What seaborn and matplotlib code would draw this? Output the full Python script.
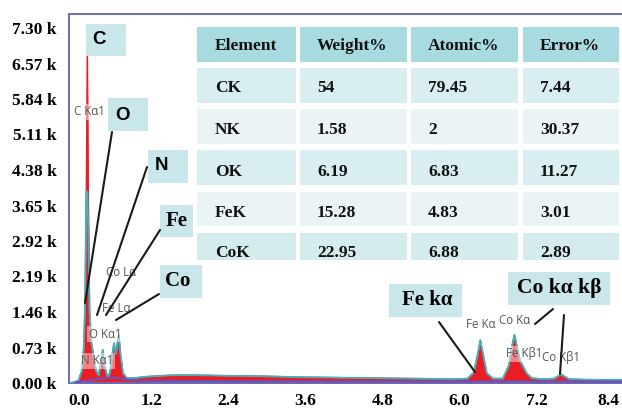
import numpy as np
import pandas as pd
import matplotlib
matplotlib.use("Agg")
import matplotlib.pyplot as plt
import seaborn as sns
from matplotlib.patches import Rectangle
from matplotlib.lines import Line2D
from matplotlib.transforms import ScaledTranslation, Bbox, TransformedBbox

# ---------------- spectrum data (energy in keV, counts in thousands) ----------------
energy_kev = [0.00, 0.10, 0.15, 0.20, 0.23, 0.25, 0.27, 0.285, 0.30, 0.32, 0.35, 0.39,
              0.42, 0.46, 0.50, 0.525, 0.55, 0.60, 0.64, 0.67, 0.70, 0.73, 0.755, 0.775,
              0.80, 0.84, 0.90, 1.0, 1.2, 1.6, 2.0, 2.4, 3.0, 3.6, 4.2, 4.8, 5.4, 6.0, 6.20,
              6.30, 6.36, 6.40, 6.44, 6.50, 6.60, 6.75, 6.84, 6.90, 6.93, 6.97, 7.02,
              7.06, 7.12, 7.20, 7.35, 7.55, 7.62, 7.65, 7.70, 7.78, 8.0, 8.61]
counts_k = [0.00, 0.02, 0.06, 0.25, 0.73, 1.6, 4.0, 6.95, 4.0, 1.46, 0.8, 0.5,
            0.25, 0.15, 0.45, 0.68, 0.35, 0.12, 0.22, 0.55, 0.82, 0.6, 0.85, 0.99,
            0.6, 0.2, 0.1, 0.1, 0.13, 0.16, 0.16, 0.15, 0.14, 0.12, 0.11, 0.10, 0.09, 0.08, 0.09,
            0.22, 0.6, 0.88, 0.6, 0.2, 0.09, 0.09, 0.35, 0.8, 0.99, 0.75, 0.45,
            0.35, 0.2, 0.1, 0.08, 0.09, 0.15, 0.18, 0.14, 0.08, 0.07, 0.06]
# second (outline) trace differs only at the carbon peak
outline_overrides = {0.27: 3.95, 0.285: 3.9, 0.30: 3.2}

# fitted background
bg_energy = [0.10, 0.30, 0.50, 0.70, 0.90, 1.2, 2.0, 4.0, 6.0, 8.61]
bg_counts = [0.01, 0.05, 0.09, 0.11, 0.07, 0.05, 0.04, 0.03, 0.03, 0.03]

# axis ticks
x_ticks = [0.0, 1.2, 2.4, 3.6, 4.8, 6.0, 7.2, 8.4]
y_ticks = [0.00, 0.73, 1.46, 2.19, 2.92, 3.65, 4.38, 5.11, 5.84, 6.57, 7.30]

# quantification table
table_header = ["Element", "Weight%", "Atomic%", "Error%"]
elements = ["CK", "NK", "OK", "FeK", "CoK"]
weight_pct = [54, 1.58, 6.19, 15.28, 22.95]
atomic_pct = [79.45, 2, 6.83, 4.83, 6.88]
error_pct = [7.44, 30.37, 11.27, 3.01, 2.89]

# ---------------- figure ----------------
W, H = 622, 409
sns.set_theme(style="white")
plt.rcParams["font.family"] = ["Liberation Serif", "DejaVu Serif"]

fig = plt.figure(figsize=(W / 100, H / 100), dpi=100)
ax = fig.add_axes([69 / W, 1 - 383 / H, (W - 69) / W + 0.01, (383 - 14) / H])

spec = pd.DataFrame({"energy": energy_kev, "counts": counts_k})
spec["outline"] = [outline_overrides.get(e, c) for e, c in zip(energy_kev, counts_k)]
bg = pd.DataFrame({"energy": bg_energy, "counts": bg_counts})

RED = "#ec1c24"
TEAL = "#3fb3bd"
PURPLE = "#6b53b5"
FRAME = "#6a6ab8"

ax.fill_between(spec["energy"], 0, spec["counts"], color=RED, lw=0, zorder=2)
sns.lineplot(data=spec, x="energy", y="counts", color=RED, lw=1.0, ax=ax,
             estimator=None, sort=False, zorder=2.5)
sns.lineplot(data=spec, x="energy", y="outline", color=TEAL, lw=1.3, ax=ax,
             estimator=None, sort=False, zorder=3)
sns.lineplot(data=bg, x="energy", y="counts", color=PURPLE, lw=1.6, ax=ax,
             estimator=None, sort=False, zorder=3.5)

ax.set_xlim(0, (W + 6 - 68.3) / 64.33)
ax.set_ylim(0, (383 - 14) * 0.73 / 35.5)
ax.set_xticks(x_ticks)
ax.set_xticklabels([f"{v:.1f}" for v in x_ticks])
ax.set_yticks(y_ticks)
ax.set_yticklabels([f"{v:.2f} k" for v in y_ticks])
ax.set_xlabel("")
ax.set_ylabel("")
ax.tick_params(axis="both", direction="in", length=3, width=0.8, color="#9a9a9a",
               labelsize=12.5, labelcolor="black")
ax.tick_params(axis="y", pad=9)
ax.tick_params(axis="x", pad=7)
for lbl in ax.get_xticklabels() + ax.get_yticklabels():
    lbl.set_fontweight("bold")
# x labels sit slightly right of their ticks; the first and last are nudged to stay in frame
label_shift_px = [10, 5, 5, 5, 5, 5, 5, -1]
for lbl, dx in zip(ax.get_xticklabels(), label_shift_px):
    lbl.set_transform(lbl.get_transform() + ScaledTranslation(dx / 100, 0, fig.dpi_scale_trans))
for side in ["left", "top", "bottom"]:
    ax.spines[side].set_color(FRAME)
    ax.spines[side].set_linewidth(1.4)
ax.spines["right"].set_visible(False)
ax.grid(False)


def fp(x, y):
    """Figure-pixel position to figure fraction."""
    return (x / W, 1 - y / H)


def rect(x0, y0, x1, y1, color, z=5):
    r = Rectangle(fp(x0, y1), (x1 - x0) / W, (y1 - y0) / H, transform=fig.transFigure,
                  facecolor=color, edgecolor="none", zorder=z)
    fig.add_artist(r)
    return r


def leader(x0, y0, x1, y1):
    (a, b), (c, d) = fp(x0, y0), fp(x1, y1)
    fig.add_artist(Line2D([a, c], [b, d], transform=fig.transFigure, color="#1a1a1a",
                          lw=1.5, zorder=6))


BOX = "#c9e7eb"
SANS = ["Liberation Sans", "DejaVu Sans"]
SERIF = ["Liberation Serif", "DejaVu Serif"]
LABEL_FONT = ["Open Sans", "DejaVu Sans"]

# element callout boxes
callouts = [
    ("C", (86, 24, 126, 56), (99, 40), SANS, 13.5),
    ("O", (108, 98, 148, 131), (123, 115), SANS, 13.5),
    ("N", (148, 150, 188, 183), (161, 166), SANS, 13.5),
    ("Fe", (160, 205, 193, 237), (177, 221), SERIF, 15),
    ("Co", (160, 265, 202, 298), (178, 281), SERIF, 15),
    ("Fe kα", (389, 284, 462, 317), (427, 300), SERIF, 15),
    ("Co kα kβ", (508, 272, 610, 305), (559, 288), SERIF, 15.5),
]
for text, (x0, y0, x1, y1), (tx, ty), fam, fs in callouts:
    rect(x0, y0, x1, y1, BOX)
    fig.text(*fp(tx, ty), text, ha="center", va="center", fontsize=fs,
             fontweight="bold", family=fam, color="black", zorder=7)

# leader lines from callouts to the peak labels
for seg in [(112, 132, 85, 303), (147, 167, 97, 315), (160, 230, 106, 315),
            (159, 294, 116, 320), (439, 322, 475, 372), (553, 309, 535, 324),
            (564, 315, 560, 374)]:
    leader(*seg)

# peak identification labels
peak_labels = [
    ("C Kα1", 89, 112), ("Co Lα", 121, 273), ("Fe Lα", 116, 308),
    ("O Kα1", 105, 334), ("N Kα1", 97, 361), ("Fe Kα", 481, 325),
    ("Co Kα", 515, 320), ("Fe Kβ1", 524, 354), ("Co Kβ1", 561, 358),
]
for text, x, y in peak_labels:
    fig.text(*fp(x, y), text, ha="center", va="center", fontsize=8.3,
             family=LABEL_FONT, color="#555555", zorder=5.5,
             bbox=dict(facecolor="white", alpha=0.45, edgecolor="none", pad=1.0))

# quantification table
col_x = [(197, 296), (300, 407), (411, 518), (523, 619)]
text_x = [215, 317, 428, 540]
row_y = [(27, 62), (68, 103), (109, 144), (150, 185), (192, 226), (233, 260)]
text_y = [46, 88, 130, 172, 213, 253]
row_colors = ["#a8dbe0", "#d8eef0", "#eaf4f5", "#d8eef0", "#eaf4f5", "#d5ecee"]

rows = [table_header] + [[e, f"{w:g}", f"{a:g}", f"{r:g}"]
                         for e, w, a, r in zip(elements, weight_pct, atomic_pct, error_pct)]
clip = TransformedBbox(Bbox.from_extents(0, 1 - 260 / H, 1, 1), fig.transFigure)
for ri, (row, (y0, y1), ty, col) in enumerate(zip(rows, row_y, text_y, row_colors)):
    for ci, ((x0, x1), tx, val) in enumerate(zip(col_x, text_x, row)):
        rect(x0, y0, x1, y1, col, z=4.5)
        t = fig.text(*fp(tx, ty), val, ha="left", va="center", fontsize=12.5,
                     fontweight="bold", family=SERIF, color="#111111", zorder=6)
        t.set_clip_on(True)
        t.set_clip_box(clip)

fig.savefig("out.png", dpi=100)
